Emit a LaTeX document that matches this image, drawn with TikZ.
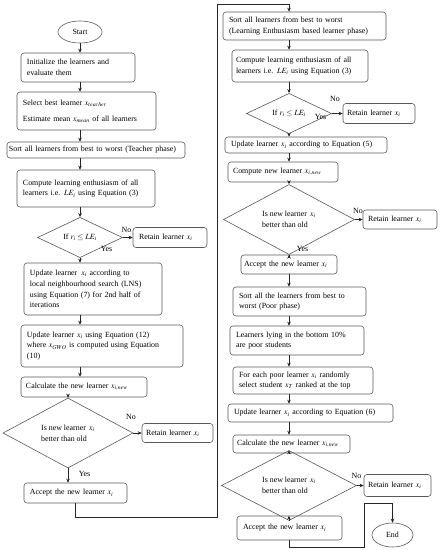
\documentclass[tikz,border=0pt]{standalone}
\usepackage{mathptmx}
\usepackage{fontspec}
\setmainfont{Liberation Serif}
\usetikzlibrary{arrows.meta,shapes.geometric,positioning}
\tikzset{
    procbox/.style={draw=black!65, line width=0.6pt, rounded corners=3pt, align=left, inner xsep=6pt, inner ysep=2pt},
    terminal/.style={ellipse, draw=black!65, line width=0.6pt, inner sep=0pt},
    decision/.style={diamond, draw=black!65, line width=0.6pt, inner sep=0pt, align=left},
    flow/.style={draw=black!85, line width=0.6pt, -{Stealth[length=4pt,width=3.5pt]}},
    answer/.style={inner sep=0pt}
}

\begin{document}
\begin{tikzpicture}[x=1pt,y=-1pt,font=\fontsize{7.9}{10.8}\selectfont]
	\useasboundingbox (0,0) rectangle (443,550);
	% teacher phase
	\node[terminal, minimum width=44pt, minimum height=22pt] (start) at (80,32) {Start};
	\node[procbox, text width=102pt, minimum height=29pt] (init) at (78,67.5) {Initialize the learners and\\ evaluate them};
	\node[procbox, text width=127pt, minimum height=38pt] (select) at (86.5,111) {Select best learner $x_{teacher}$\\[5pt] Estimate mean $x_{mean}$ of all learners};
	\node[procbox, inner xsep=2pt, text width=174pt, minimum height=16pt] (sortA) at (96,150) {Sort all learners from best to worst (Teacher phase)};
	\node[procbox, text width=126pt, minimum height=37pt] (computeA) at (86,188.5) {Compute learning enthusiasm of all\\ learners i.e. $LE_i$ using Equation (3)};
	\node[decision, minimum width=85pt, minimum height=35pt] (ifA) at (80,237.5) {If $r_i \leq LE_i$};
	\node[procbox, text width=62pt, minimum height=20pt] (retainA1) at (170,237.5) {Retain learner $x_i$};
	\node[procbox, text width=126pt, minimum height=52pt] (lns) at (93,289) {Update learner\, $x_i$ according to\\ local neighbourhood search (LNS)\\ using Equation (7) for 2nd half of\\ iterations};
	\node[procbox, text width=150pt, minimum height=42pt] (gwo) at (102,346) {Update learner $x_i$ using Equation (12)\\ where $x_{GWO}$ is computed using Equation\\ (10)};
	\node[procbox, inner xsep=5pt, text width=116pt, minimum height=20pt] (calcA) at (84,387) {Calculate the new learner $x_{i,new}$};
	\node[decision, minimum width=130pt, minimum height=64pt] (isA) at (68,433) {Is new learner\, $x_i$\\ better than old};
	\node[procbox, inner xsep=4pt, text width=63pt, minimum height=19pt] (retainA2) at (177.5,433) {Retain learner $x_i$};
	\node[procbox, text width=91pt, minimum height=20pt] (acceptA) at (75.5,493) {Accept the new learner $x_i$};

	% learner phase
	\coordinate (spine) at (289,0);
	\node[procbox, text width=151pt, minimum height=28pt] (sortB) at (304.5,26) {Sort all learners from best to worst\\ (Learning Enthusiasm based learner phase)};
	\node[procbox, inner xsep=4pt, text width=128pt, minimum height=32pt] (computeB) at (300,66) {Compute learning enthusiasm of all\\ learners i.e. $LE_i$ using Equation (3)};
	\node[decision, minimum width=85pt, minimum height=37pt] (ifB) at (289,113.5) {If $r_i \leq LE_i$};
	\node[procbox, inner xsep=4pt, text width=64pt, minimum height=20pt] (retainB1) at (379,113.5) {Retain learner $x_i$};
	\node[procbox, text width=150pt, minimum height=16pt] (updB) at (306,145) {Update learner $x_i$ according to Equation (5)};
	\node[procbox, inner xsep=5pt, text width=100pt, minimum height=20pt] (newB) at (283,172) {Compute new learner $x_{i,new}$};
	\node[decision, minimum width=131pt, minimum height=55pt] (isB) at (289,219.5) {Is new learner\, $x_i$\\ better than old};
	\node[procbox, inner xsep=5pt, text width=64pt, minimum height=19pt] (retainB2) at (400,219.5) {Retain learner $x_i$};
	\node[procbox, inner xsep=3pt, text width=90pt, minimum height=19pt] (acceptB) at (289,264.5) {Accept the new learner $x_i$};

	% poor phase
	\node[procbox, text width=121pt, minimum height=29pt] (sortPoor) at (299.5,301.5) {Sort all the learners from best to\\ worst (Poor phase)};
	\node[procbox, text width=122pt, minimum height=29pt] (poor) at (297,340.5) {Learners lying in the bottom 10\%\\ are poor students};
	\node[procbox, text width=128pt, minimum height=27pt] (foreach) at (303,380.5) {For each poor learner $x_i$ randomly\\ select student $x_T$ ranked at the top};
	\node[procbox, text width=153pt, minimum height=18pt] (updPoor) at (310.5,413) {Update learner $x_i$ according to Equation (6)};
	\node[procbox, inner xsep=4pt, text width=109pt, minimum height=18pt] (calcB) at (291.5,444) {Calculate the new learner $x_{i,new}$};
	\node[decision, minimum width=135pt, minimum height=45pt] (isC) at (289,485.5) {Is new learner\, $x_i$\\ better than old};
	\node[procbox, inner xsep=4pt, text width=59pt, minimum height=22pt] (retainC) at (397.5,485.5) {Retain learner $x_i$};
	\node[procbox, text width=93pt, minimum height=24pt] (acceptC) at (289.5,528) {Accept the new learner $x_i$};
	\node[terminal, minimum width=41pt, minimum height=24pt] (end) at (392.5,535) {End};

	% yes / no
	\node[answer] at (126.5,230) {No};
	\node[answer] at (106.5,248.5) {Yes};
	\node[answer] at (131,417) {No};
	\node[answer] at (84.5,474) {Yes};
	\node[answer] at (335,99) {No};
	\node[answer] at (320.5,117) {Yes};
	\node[answer] at (358,211) {No};
	\node[answer] at (302.5,248.5) {Yes};
	\node[answer] at (356.5,475.5) {No};

	% left column
	\draw[flow] (start) -- (start |- init.north);
	\draw[flow] (init.south -| ifA) -- (select.north -| ifA);
	\draw[flow] (select.south -| ifA) -- (sortA.north -| ifA);
	\draw[flow] (sortA.south -| ifA) -- (computeA.north -| ifA);
	\draw[flow] (computeA.south -| ifA) -- (ifA.north);
	\draw[flow] (ifA.east) -- (retainA1.west);
	\draw[flow] (ifA.south) -- (lns.north -| ifA);
	\draw[flow] (lns.south -| ifA) -- (gwo.north -| ifA);
	\draw[flow] (gwo.south -| ifA) -- (calcA.north -| ifA);
	\draw[flow] (calcA.south -| isA) -- (isA.north);
	\draw[flow] (isA.east) -- (retainA2.west);
	\draw[flow] (isA.south) -- (acceptA.north -| isA);

	% across to the right column
	\coordinate (loopA) at (217,517);
	\coordinate (loopB) at (217,4);
	\draw[flow] (acceptA.south) |- (loopA) -- (loopB) -| (spine |- sortB.north);

	% right column
	\draw[flow] (sortB.south -| spine) -- (computeB.north -| spine);
	\draw[flow] (computeB.south -| spine) -- (ifB.north);
	\draw[flow] (ifB.east) -- (retainB1.west);
	\draw[flow] (ifB.south) -- (updB.north -| spine);
	\draw[flow] (updB.south -| spine) -- (newB.north -| spine);
	\draw[flow] (newB.south -| spine) -- (isB.north);
	\draw[flow] (isB.east) -- (retainB2.west);
	\draw[flow] (isB.south) -- (acceptB.north -| spine);
	\draw[flow] (acceptB.south -| spine) -- (sortPoor.north -| spine);
	\draw[flow] (sortPoor.south -| spine) -- (poor.north -| spine);
	\draw[flow] (poor.south -| spine) -- (foreach.north -| spine);
	\draw[flow] (foreach.south -| spine) -- (updPoor.north -| spine);
	\draw[flow] (updPoor.south -| spine) -- (calcB.north -| spine);
	\draw[flow] (calcB.south -| spine) -- (isC.north);
	\draw[flow] (isC.east) -- (retainC.west);
	\draw[flow] (isC.south) -- (acceptC.north -| spine);

	% to the end
	\coordinate (bendA) at (364,547);
	\coordinate (bendB) at (364,503);
	\draw[flow] (acceptC.south) |- (bendA) -- (bendB) -| (end.north);
\end{tikzpicture}
\end{document}
